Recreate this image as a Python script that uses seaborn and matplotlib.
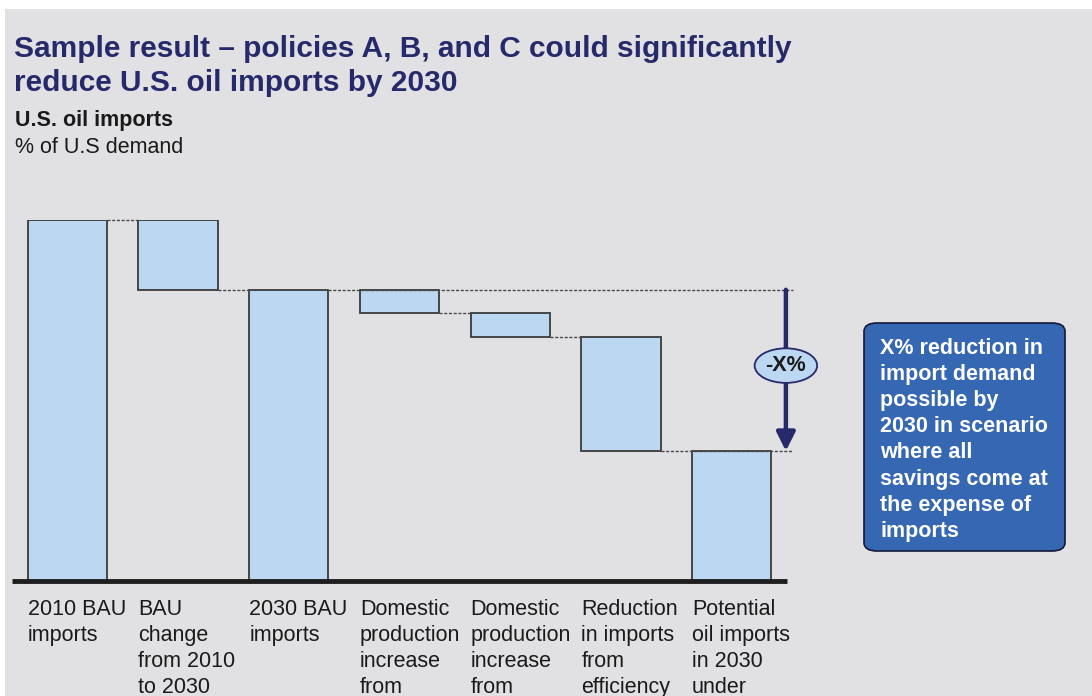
import numpy as np
import pandas as pd
import matplotlib
matplotlib.use("Agg")
import matplotlib.pyplot as plt
from matplotlib.patches import Rectangle, FancyBboxPatch
import seaborn as sns

# ---- data -------------------------------------------------------------
labels = [
    "2010 BAU\nimports",
    "BAU\nchange\nfrom 2010\nto 2030",
    "2030 BAU\nimports",
    "Domestic\nproduction\nincrease\nfrom",
    "Domestic\nproduction\nincrease\nfrom",
    "Reduction\nin imports\nfrom\nefficiency",
    "Potential\noil imports\nin 2030\nunder",
]
bau_2010 = 60.0            # % of U.S. demand
bau_change = -11.6
reductions = [-3.9, -4.0, -18.9]

# ---- waterfall geometry ----------------------------------------------
bau_2030 = bau_2010 + bau_change
levels = [bau_2030]
for r in reductions:
    levels.append(levels[-1] + r)
final = levels[-1]

tops = [bau_2010, bau_2010, bau_2030] + levels[:-1] + [final]
bottoms = [0.0, bau_2030, 0.0] + levels[1:] + [0.0]

df = pd.DataFrame({"step": [str(i) for i in range(len(labels))], "top": tops})

# ---- styling ----------------------------------------------------------
BG = "#E1E1E4"
NAVY = "#262A6A"
BAR = "#BCD7F1"
EDGE = "#3A3A3A"
BOX = "#3567B2"
FONT = ["Liberation Sans", "DejaVu Sans"]

sns.set_theme(style="white")
plt.rcParams["font.family"] = FONT

W, H = 1092, 696
fig = plt.figure(figsize=(W / 100, H / 100), dpi=100, facecolor="white")

def fx(px):
    return px / W

def fy(py):
    return 1 - py / H

# grey panel behind everything
fig.patches.append(Rectangle((fx(5), 0), 1, fy(9), transform=fig.transFigure,
                             facecolor=BG, edgecolor="none", zorder=-10))

ax = fig.add_axes([fx(12), fy(581), fx(787) - fx(12), fy(220) - fy(581)])
ax.set_facecolor("none")

bar_w = 0.715
sns.barplot(data=df, x="step", y="top", ax=ax, color=BAR, width=bar_w,
            edgecolor=EDGE, linewidth=1.3, saturation=1)

# turn the bars into floating waterfall segments
for patch, b, t in zip(ax.patches, bottoms, tops):
    patch.set_y(b)
    patch.set_height(t - b)
    patch.set_facecolor(BAR)

ax.set_xlim(-0.5, 6.5)
ax.set_ylim(0, bau_2010)
ax.set_xlabel("")
ax.set_ylabel("")
ax.set_yticks([])
for s in ["left", "right", "top"]:
    ax.spines[s].set_visible(False)
ax.spines["bottom"].set_linewidth(3.5)
ax.spines["bottom"].set_color("#1E1E1E")
ax.spines["bottom"].set_capstyle("butt")

# category labels, left aligned to each bar
ax.set_xticks(np.arange(len(labels)) - bar_w / 2)
ax.set_xticklabels(labels, ha="left", va="top", fontsize=15.5,
                   color="#1A1A1A", linespacing=1.32)
ax.tick_params(axis="x", length=0, pad=13)

# dashed connectors between consecutive steps
arrow_x = 6.49
dash_end = 6.555
dash_kw = dict(color="#4A4A4A", lw=1.0, linestyle=(0, (2.2, 1.2)), zorder=1,
               clip_on=False)
half = bar_w / 2
ax.plot([0 + half, 1 - half], [bau_2010, bau_2010], **dash_kw)
ax.plot([1 + half, 2 - half], [bau_2030, bau_2030], **dash_kw)
ax.plot([2 + half, dash_end], [bau_2030, bau_2030], **dash_kw)
for i in range(1, len(levels) - 1):
    ax.plot([2 + i + half, 3 + i - half], [levels[i], levels[i]], **dash_kw)
ax.plot([5 + half, dash_end], [final, final], **dash_kw)

# total reduction arrow with badge
ax.annotate("", xy=(arrow_x, final), xytext=(arrow_x, bau_2030),
            arrowprops=dict(arrowstyle="-|>", lw=3.2, color=NAVY,
                            mutation_scale=28, shrinkA=0, shrinkB=0),
            annotation_clip=False)
ax.text(arrow_x, (bau_2030 + final) / 2 + 0.8, "-X%", ha="center", va="center",
        fontsize=15.5, fontweight="bold", color="#1A1A1A", zorder=5,
        bbox=dict(boxstyle="ellipse,pad=0.08", fc=BAR, ec=NAVY, lw=1.3),
        clip_on=False)

# ---- titles -----------------------------------------------------------
fig.text(fx(14), fy(35), "Sample result \u2013 policies A, B, and C could significantly\n"
         "reduce U.S. oil imports by 2030", ha="left", va="top",
         fontsize=21.5, fontweight="bold", color=NAVY, linespacing=1.28)
fig.text(fx(15), fy(110), "U.S. oil imports", ha="left", va="top",
         fontsize=15.5, fontweight="bold", color="#1A1A1A")
fig.text(fx(15), fy(137), "% of U.S demand", ha="left", va="top",
         fontsize=15.5, color="#1A1A1A")

# ---- callout box ------------------------------------------------------
fig.patches.append(FancyBboxPatch((fx(864), fy(551)), fx(1065) - fx(864), fy(323) - fy(551),
                                  boxstyle="round,pad=0,rounding_size=0.012",
                                  transform=fig.transFigure, facecolor=BOX,
                                  edgecolor="#15183A", lw=1.2, zorder=2))
fig.text(fx(880), fy(338),
         "X% reduction in\nimport demand\npossible by\n2030 in scenario\n"
         "where all\nsavings come at\nthe expense of\nimports",
         ha="left", va="top", fontsize=15.5, fontweight="bold", color="white",
         linespacing=1.32, zorder=3)

fig.savefig("out.png", dpi=100, facecolor="white")
